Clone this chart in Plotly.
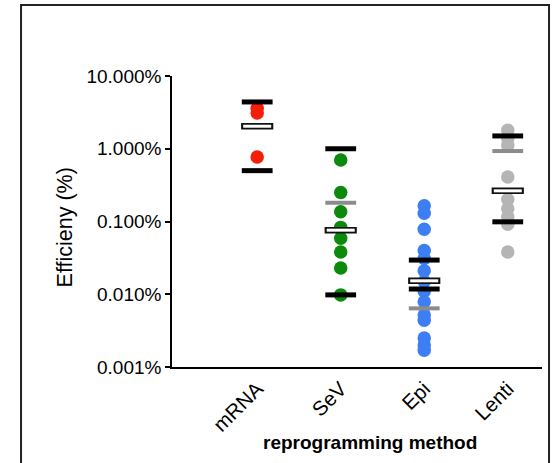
import plotly.graph_objects as go

categories = ["mRNA", "SeV", "Epi", "Lenti"]
colors = ["#f41e0a", "#0c8a0c", "#3d7ef2", "#b5b5b5"]

mrna_vals = [3.6, 3.1, 0.77]
sev_vals = [0.70, 0.25, 0.136, 0.083, 0.059, 0.038, 0.023, 0.0098]
epi_vals = [0.165, 0.13, 0.078, 0.040, 0.031, 0.021, 0.015, 0.011,
            0.0079, 0.0052, 0.0044, 0.0025, 0.0020, 0.0017]
lenti_vals = [1.8, 1.38, 1.12, 0.41, 0.20, 0.15, 0.116, 0.092, 0.038]
series = [mrna_vals, sev_vals, epi_vals, lenti_vals]

upper_bar = [4.4, 1.0, 0.0295, 1.50]
lower_bar = [0.50, 0.0098, 0.0118, 0.099]
mean_bar = [2.04, 0.076, 0.0153, 0.264]
median_bar = [2.0, 0.181, 0.0064, 0.93]

ytick_vals = [0.001, 0.01, 0.1, 1, 10]
ytick_text = ["0.001%", "0.010%", "0.100%", "1.000%", "10.000%"]

FONT = "Liberation Sans, Arial, Helvetica, sans-serif"

fig = go.Figure()

for i, vals in enumerate(series):
    fig.add_trace(go.Scatter(
        x=[i] * len(vals), y=vals, mode="markers",
        marker=dict(size=13.5, color=colors[i], line=dict(width=0)),
        showlegend=False, hoverinfo="skip"))

xs = list(range(len(categories)))

# median (gray)
fig.add_trace(go.Scatter(
    x=xs, y=median_bar, mode="markers",
    marker=dict(symbol="line-ew", size=22, line=dict(width=4, color="#8c8c8c")),
    showlegend=False, hoverinfo="skip"))
# mean box (black outline, white fill)
fig.add_trace(go.Scatter(
    x=xs, y=mean_bar, mode="markers",
    marker=dict(symbol="line-ew", size=23, line=dict(width=6.5, color="#111111")),
    showlegend=False, hoverinfo="skip"))
fig.add_trace(go.Scatter(
    x=xs, y=mean_bar, mode="markers",
    marker=dict(symbol="line-ew", size=20, line=dict(width=3, color="#ffffff")),
    showlegend=False, hoverinfo="skip"))
# upper / lower black bars
for bar in (upper_bar, lower_bar):
    fig.add_trace(go.Scatter(
        x=xs, y=bar, mode="markers",
        marker=dict(symbol="line-ew", size=22, line=dict(width=5, color="#000000")),
        showlegend=False, hoverinfo="skip"))

fig.update_layout(
    width=552, height=463, autosize=False,
    margin=dict(l=172, r=10, t=76, b=96),
    paper_bgcolor="white", plot_bgcolor="white",
    font=dict(family=FONT, color="#000000", size=19),
    xaxis=dict(
        range=[-1.02, 3.41], tickvals=xs, ticktext=categories,
        tickangle=-45, ticks="", showline=True, linecolor="#000000",
        linewidth=1.5, showgrid=False, zeroline=False,
        tickfont=dict(size=20.5, family=FONT)),
    yaxis=dict(
        type="log", range=[-3, 1], tickvals=ytick_vals, ticktext=ytick_text,
        ticks="outside", ticklen=5, tickwidth=1.5, tickcolor="#000000",
        showline=True, linecolor="#000000", linewidth=1.5,
        showgrid=False, zeroline=False, tickfont=dict(size=19, family=FONT)),
    annotations=[
        dict(text="<b>reprogramming method</b>", xref="paper", yref="paper",
             x=0.535, y=-0.26, xanchor="center", yanchor="middle",
             showarrow=False, font=dict(size=19, family=FONT)),
        dict(text="Efficieny (%)", xref="paper", yref="paper",
             x=-0.289, y=0.48, xanchor="center", yanchor="middle",
             textangle=-90, showarrow=False, font=dict(size=21.5, family=FONT)),
    ],
    shapes=[
        dict(type="rect", xref="paper", yref="paper",
             x0=-0.408, x1=1.019, y0=-0.40, y1=1.244,
             line=dict(color="#222222", width=2), fillcolor="rgba(0,0,0,0)",
             layer="below"),
    ],
)

fig.write_html("out.html")
